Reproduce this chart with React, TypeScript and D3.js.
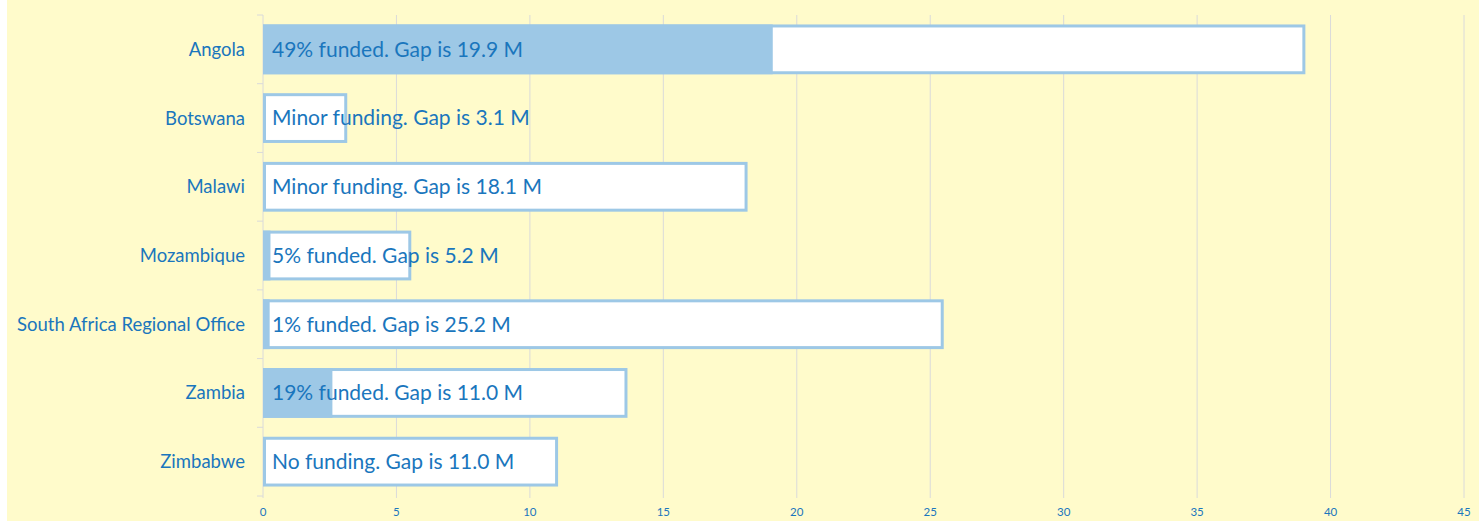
import React from "react";
import * as d3 from "d3";

const countries = ["Angola", "Botswana", "Malawi", "Mozambique", "South Africa Regional Office", "Zambia", "Zimbabwe"];
const requirements = [39.0, 3.1, 18.1, 5.5, 25.45, 13.6, 11.0];
const funded = [19.1, 0, 0, 0.28, 0.25, 2.6, 0];
const barLabels = [
  "49% funded. Gap is 19.9 M",
  "Minor funding. Gap is 3.1 M",
  "Minor funding. Gap is 18.1 M",
  "5% funded. Gap is 5.2 M",
  "1% funded. Gap is 25.2 M",
  "19% funded. Gap is 11.0 M",
  "No funding. Gap is 11.0 M",
];
const xTicks = [0, 5, 10, 15, 20, 25, 30, 35, 40, 45];

const W = 1479;
const H = 522;
const blue = "#1a76bd";
const barBlue = "#9dc8e6";
const font = "Lato, 'Open Sans', sans-serif";

export default function App() {
  const x = d3.scaleLinear().domain([0, 45]).range([263, 1464]);
  const y = d3.scaleBand().domain(countries).range([15, 496]).paddingInner(0.29).paddingOuter(0.145);
  const step = y.step();
  const boundaries = d3.range(countries.length + 1).map((i) => 15 + i * step);

  return (
    <svg
      width={W}
      height={H}
      style={{ display: "block", fontFamily: font, position: "absolute", left: 0, top: 0 }}
    >
      <rect x={7} y={0} width={W - 7} height={521} fill="#fffbcb" />
      {xTicks.map((t) => (
        <line key={t} x1={x(t)} x2={x(t)} y1={15} y2={498} stroke="#dadada" strokeWidth={1} />
      ))}
      {boundaries.map((b, i) => (
        <line key={i} x1={257} x2={263} y1={b} y2={b} stroke="#dadada" strokeWidth={1} />
      ))}
      {countries.map((c, i) => {
        const y0 = y(c)!;
        const bh = y.bandwidth();
        return (
          <g key={c}>
            <rect
              x={x(0) + 1.5}
              y={y0 + 1}
              width={x(requirements[i]) - x(0) - 1.5}
              height={bh - 2}
              fill="#ffffff"
              stroke={barBlue}
              strokeWidth={3}
            />
            {funded[i] > 0 && (
              <rect x={x(0)} y={y0 - 0.5} width={x(funded[i]) - x(0)} height={bh + 1} fill={barBlue} />
            )}
            <text x={x(0) + 9} y={y0 + bh / 2} dy="0.35em" fontSize={21} fill={blue}>
              {barLabels[i]}
            </text>
            <text x={245} y={y0 + bh / 2} dy="0.35em" textAnchor="end" fontSize={18.5} fill={blue}>
              {c}
            </text>
          </g>
        );
      })}
      {xTicks.map((t) => (
        <text key={t} x={x(t)} y={512} dy="0.35em" textAnchor="middle" fontSize={11.5} fill={blue}>
          {t}
        </text>
      ))}
    </svg>
  );
}
